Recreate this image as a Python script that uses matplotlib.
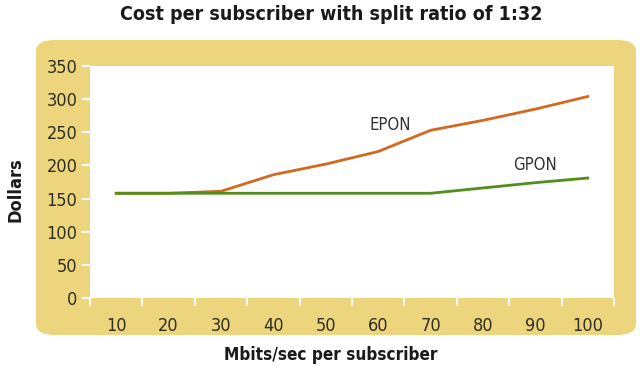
import matplotlib.pyplot as plt
from matplotlib.patches import FancyBboxPatch

speeds = ['10', '20', '30', '40', '50', '60', '70', '80', '90', '100']
epon = [158, 158, 161, 186, 202, 221, 253, 268, 285, 304]
gpon = [158, 158, 158, 158, 158, 158, 158, 166, 174, 181]
yticks = [0, 50, 100, 150, 200, 250, 300, 350]

plt.rcParams['font.family'] = ['DejaVu Sans']
plt.rcParams['font.stretch'] = 'condensed'

gold = '#ecd57c'
fig = plt.figure(figsize=(6.4, 3.82), dpi=100)

# golden rounded frame behind the plot
box = FancyBboxPatch((36 / 640, 1 - 335 / 382), 600 / 640, 295 / 382,
                     boxstyle='round,pad=0,rounding_size=0.03',
                     transform=fig.transFigure, facecolor=gold,
                     edgecolor='none', zorder=-5)
fig.patches.append(box)

ax = fig.add_axes([90 / 640, 1 - 298 / 382, 524 / 640, 232 / 382])
ax.set_facecolor('white')
x = range(len(speeds))
ax.plot(x, epon, color='#d4681f', lw=2, zorder=3)
ax.plot(x, gpon, color='#4f8f1a', lw=2, zorder=4)
ax.text(5.23, 261, 'EPON', ha='center', va='center', fontsize=12, color='#333333')
ax.text(8.0, 200, 'GPON', ha='center', va='center', fontsize=12, color='#333333')

ax.set_xlim(-0.5, len(speeds) - 0.5)
ax.set_ylim(0, 350)
ax.set_yticks(yticks)
ax.set_yticklabels([str(v) for v in yticks])
ax.set_xticks([i - 0.5 for i in range(len(speeds) + 1)])
ax.set_xticklabels([])
ax.set_xticks(list(x), minor=True)
ax.set_xticklabels(speeds, minor=True)
ax.tick_params(axis='x', which='major', length=6, width=1.5, color='white', direction='out')
ax.tick_params(axis='x', which='minor', length=0, pad=14, labelsize=13, labelcolor='#2e2e22')
ax.tick_params(axis='y', length=6, width=1.5, color='white', pad=3, labelsize=13, labelcolor='#2e2e22')
for s in ax.spines.values():
    s.set_visible(False)

fig.text(331 / 640, 1 - 14 / 382, 'Cost per subscriber with split ratio of 1:32',
         ha='center', va='center', fontsize=14, fontweight='bold', color='#1a1a1a')
fig.text(331 / 640, 1 - 355 / 382, 'Mbits/sec per subscriber',
         ha='center', va='center', fontsize=12.3, fontweight='bold', color='#1a1a1a')
fig.text(15 / 640, 1 - 190 / 382, 'Dollars', rotation=90,
         ha='center', va='center', fontsize=13, fontweight='bold', color='#1a1a1a')

fig.savefig('out.png', dpi=100)
